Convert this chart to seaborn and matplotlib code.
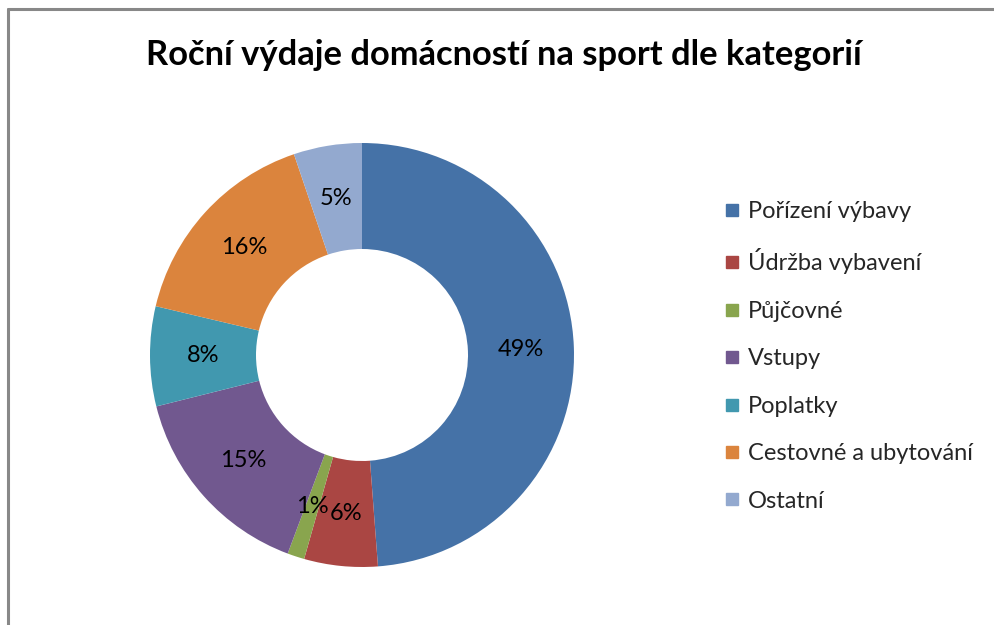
import matplotlib
matplotlib.use("Agg")
import matplotlib.pyplot as plt
from matplotlib.lines import Line2D
import seaborn as sns

categories = ["Pořízení výbavy", "Údržba vybavení", "Půjčovné", "Vstupy",
              "Poplatky", "Cestovné a ubytování", "Ostatní"]
values = [48.8, 5.6, 1.3, 15.4, 7.6, 16.1, 5.2]
colors = ["#4572A7", "#AA4643", "#89A54E", "#71588F", "#4198AF", "#DB843D", "#93A9CF"]
title = "Roční výdaje domácností na sport dle kategorií"

sns.set_theme(style="white")
plt.rcParams["font.family"] = ["Lato", "DejaVu Sans"]
palette = sns.color_palette(colors)

W, H = 995, 625
fig = plt.figure(figsize=(W / 100, H / 100), dpi=100)
fig.patch.set_facecolor("white")

cx, cy, r = 362, 355, 212
ax = fig.add_axes([(cx - r) / W, (H - cy - r) / H, 2 * r / W, 2 * r / H])
wedges, texts, autotexts = ax.pie(
    values, colors=palette, startangle=90, counterclock=False, radius=1.0,
    wedgeprops=dict(width=0.5, edgecolor="none"),
    autopct="%.0f%%", pctdistance=0.75,
    textprops=dict(fontsize=17, color="black"))
ax.set_xlim(-1, 1)
ax.set_ylim(-1, 1)
ax.set_aspect("equal")
ax.axis("off")

fig.text(504 / W, 1 - 55 / H, title, ha="center", va="center",
         fontsize=24.8, fontweight="bold", color="black")

handles = [Line2D([0], [0], marker="s", linestyle="none", markersize=8.6,
                  markerfacecolor=c, markeredgecolor=c) for c in palette]
fig.legend(handles, categories, loc="upper left",
           bbox_to_anchor=(724 / W, 1 - 201 / H), frameon=False,
           fontsize=17, handletextpad=0.3, labelspacing=1.12,
           handlelength=0.7, borderaxespad=0, borderpad=0)

fig.add_artist(Line2D([8 / W, 8 / W], [0, 1 - 9 / H], transform=fig.transFigure,
                      color="#888888", linewidth=2.2))
fig.add_artist(Line2D([8 / W, 1], [1 - 9 / H, 1 - 9 / H], transform=fig.transFigure,
                      color="#888888", linewidth=2.2))

fig.savefig("out.png", dpi=100)
